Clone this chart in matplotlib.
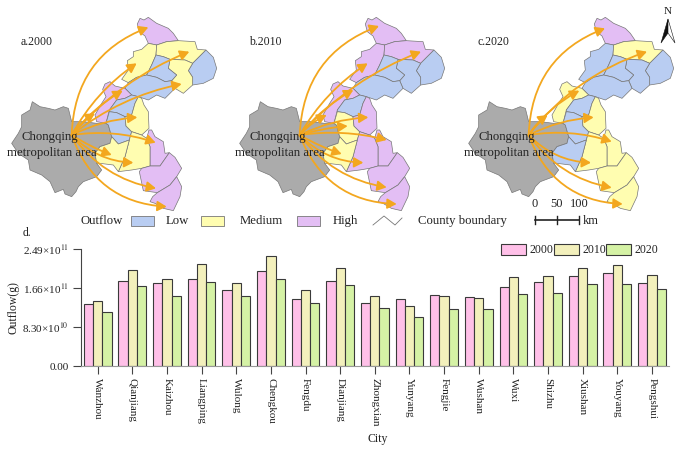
import matplotlib
matplotlib.use("Agg")
import matplotlib.pyplot as plt
from matplotlib.patches import Polygon, Rectangle, FancyArrowPatch

plt.rcParams['font.family'] = ['Liberation Serif', 'DejaVu Serif']
plt.rcParams['mathtext.fontset'] = 'stix'

# bar chart data (outflow in 1e11 g)
cities = ["Wanzhou", "Qianjiang", "Kaizhou", "Liangping", "Wulong", "Chengkou", "Fengdu",
          "Dianjiang", "Zhongxian", "Yunyang", "Fengjie", "Wushan", "Wuxi", "Shizhu",
          "Xiushan", "Youyang", "Pengshui"]
outflow_2000 = [1.31, 1.81, 1.76, 1.86, 1.61, 2.02, 1.43, 1.81, 1.34, 1.43, 1.52, 1.47, 1.69, 1.79, 1.92, 1.98, 1.76]
outflow_2010 = [1.39, 2.05, 1.86, 2.17, 1.76, 2.35, 1.61, 2.09, 1.49, 1.27, 1.48, 1.44, 1.89, 1.91, 2.08, 2.16, 1.94]
outflow_2020 = [1.15, 1.70, 1.48, 1.78, 1.49, 1.86, 1.34, 1.73, 1.24, 1.05, 1.21, 1.22, 1.53, 1.56, 1.75, 1.74, 1.63]
y_ticks = [0, 0.83, 1.66, 2.49]
y_tick_labels = ["0.00", r"8.30×10$^{10}$", r"1.66×10$^{11}$", r"2.49×10$^{11}$"]

# map outlines
metro = [(97,305),(120,320),(145,325),(165,330),(190,320),(205,325),(215,365),(250,365),(290,370),(318,370),(325,375),
         (335,410),(330,430),(300,440),(285,460),(290,490),(305,510),(290,530),(250,545),(235,560),(228,575),(215,590),
         (195,582),(190,568),(165,578),(150,545),(125,525),(90,510),(85,480),(55,460),(35,430),(55,400),(65,380),(65,345),(90,330)]
counties = [
    [(420,55),(432,60),(445,52),(470,70),(505,85),(520,100),(535,122),(500,125),(470,135),(445,130),(435,108),(418,95),(412,72)],
    [(400,155),(425,148),(445,130),(470,135),(468,165),(455,195),(440,225),(410,232),(385,248),(365,238),(385,210),(382,182),(400,170)],
    [(500,125),(535,122),(585,125),(592,148),(618,150),(600,168),(578,190),(555,180),(510,178),(490,170),(468,165),(470,135)],
    [(618,150),(640,172),(650,205),(640,235),(610,250),(578,255),(578,232),(565,212),(578,190),(600,168)],
    [(510,178),(555,180),(578,190),(565,212),(578,232),(578,255),(550,280),(525,265),(515,242),(530,225),(505,205)],
    [(468,165),(490,170),(510,178),(505,205),(530,225),(515,242),(495,245),(470,232),(440,225),(455,195)],
    [(440,225),(470,232),(495,245),(515,242),(525,265),(495,295),(470,285),(445,300),(415,290),(395,285),(375,265),(385,248),(410,232)],
    [(315,252),(330,245),(345,258),(375,265),(395,285),(375,295),(350,300),(328,330),(318,370),(290,365),(285,345),(305,310),(318,290),(308,268)],
    [(395,285),(415,290),(405,310),(395,345),(375,350),(350,338),(328,335),(328,330),(350,300),(375,295)],
    [(328,335),(350,338),(375,350),(378,378),(395,395),(388,420),(355,432),(335,410),(325,375),(318,370)],
    [(415,290),(425,295),(432,315),(445,335),(447,385),(425,405),(395,395),(378,378),(375,350),(395,345),(405,310)],
    [(447,390),(455,390),(465,410),(490,425),(495,460),(508,458),(480,498),(450,498),(450,440),(440,415)],
    [(425,405),(440,415),(450,440),(450,498),(425,505),(395,510),(355,515),(375,470),(388,420),(395,395)],
    [(355,432),(388,420),(375,470),(355,515),(340,495),(300,490),(290,490),(285,460),(300,440),(330,430),(335,410)],
    [(508,458),(525,472),(545,505),(530,530),(510,555),(472,578),(430,572),(418,515),(425,505),(450,498),(480,498)],
    [(530,530),(545,560),(540,590),(520,632),(490,625),(465,610),(450,605),(458,590),(472,578),(510,555)],
]
# outflow class of each county per panel: L, M, H
levels_a = "HMMLMLLHLLMHMMHH"
levels_b = "HHHLLLLHLMHHHMHH"
levels_c = "HLMLLLLMLLMMMLMM"
# arrow ends and curvature per panel
targets_a = [(445,82,-.33),(410,190,-.12),(568,155,-.12),(368,272,-.1),(545,252,-.12),(285,340,-.1),
             (412,352,-.1),(467,428,-.12),(335,465,.05),(400,488,.2),(468,565,.2),(500,620,.33)]
targets_b = [(453,78,-.33),(419,190,-.12),(579,155,-.12),(376,270,-.1),(296,345,-.1),(421,352,-.1),
             (359,378,-.05),(476,420,-.1),(341,462,.05),(406,488,.2),(476,562,.2),(506,612,.33)]
targets_c = [(444,85,-.33),(570,155,-.15),(367,272,-.12),(272,345,-.1),(410,352,-.1),(464,425,-.12),
             (402,488,.2),(464,563,.2),(497,612,.33)]
panels = [("a.2000", 0, levels_a, targets_a), ("b.2010", 228, levels_b, targets_b), ("c.2020", 457, levels_c, targets_c)]

level_colors = {"L": "#B9CDF2", "M": "#FFFDB0", "H": "#E3BEF4"}
text_color = "#222222"
arrow_color = "#F3A71F"

fig = plt.figure(figsize=(6.85, 4.5), dpi=100)

# whole figure axes in pixels for the maps
bg = fig.add_axes([0, 0, 1, 1])
bg.set_xlim(0, 685)
bg.set_ylim(450, 0)
bg.axis("off")


def scaled(points, dx):
    return [(p[0] / 3 + dx, p[1] / 3) for p in points]


for title, dx, levels, targets in panels:
    bg.add_patch(Polygon(scaled(metro, dx), facecolor="#ABABAB", edgecolor="#777777", lw=0.5))
    for county, level in zip(counties, levels):
        bg.add_patch(Polygon(scaled(county, dx), facecolor=level_colors[level], edgecolor="#777777", lw=0.5))
    for tx, ty, rad in targets:
        bg.add_patch(FancyArrowPatch((215 / 3 + dx, 405 / 3), (tx / 3 + dx, ty / 3),
                                     arrowstyle="-|>,head_length=0.55,head_width=0.3",
                                     mutation_scale=10, connectionstyle=f"arc3,rad={rad}",
                                     color=arrow_color, lw=1.3, shrinkA=0, shrinkB=0, zorder=3))
    bg.text(21 + dx, 42, title, fontsize=8.5, color=text_color, va="center")
    bg.text(50 + dx, 137, "Chongqing", fontsize=9.2, color=text_color, ha="center", va="center", zorder=4)
    bg.text(52 + dx, 153, "metropolitan area", fontsize=9.2, color=text_color, ha="center", va="center", zorder=4)

# map legend
bg.text(81, 221, "Outflow", fontsize=9.2, color=text_color, va="center")
for x0, lev, name, tx in [(131, "L", "Low", 166), (201, "M", "Medium", 240), (297, "H", "High", 333)]:
    bg.add_patch(Rectangle((x0, 216), 23, 10, facecolor=level_colors[lev], edgecolor="#777777", lw=0.6))
    bg.text(tx, 221, name, fontsize=9.2, color=text_color, va="center")
bg.plot([373, 384, 395, 402], [225, 216, 225, 218], color="#777777", lw=0.6)
bg.text(418, 221, "County boundary", fontsize=9.2, color=text_color, va="center")

# scale bar
bg.plot([535, 579], [220, 220], color="#222222", lw=1.2)
for x0, lab in [(535, "0"), (557, "50"), (579, "100")]:
    bg.plot([x0, x0], [216, 224], color="#222222", lw=1.0)
    bg.text(x0, 204, lab, fontsize=9, color=text_color, ha="center", va="center")
bg.text(583, 221, "km", fontsize=9, color=text_color, va="center")

# north arrow
bg.text(668, 12, "N", fontsize=8, color=text_color, ha="center", va="center")
bg.add_patch(Polygon([(668, 19), (661, 43), (668, 33)], facecolor="#111111", edgecolor="#111111", lw=0.4))
bg.add_patch(Polygon([(668, 19), (675, 43), (668, 33)], facecolor="white", edgecolor="#111111", lw=0.4))

bg.text(23, 233, "d.", fontsize=8.5, color=text_color, va="center")

# bar chart
ax = fig.add_axes([81 / 685, 1 - 366 / 450, 588 / 685, 117 / 450])
ax.patch.set_alpha(0)
width = 0.267
x = list(range(len(cities)))
series = [("2000", outflow_2000, "#FFC0E8"), ("2010", outflow_2010, "#F3F0BC"), ("2020", outflow_2020, "#D5F2A5")]
for i, (name, values, color) in enumerate(series):
    ax.bar([v + (i - 1) * width for v in x], values, width, color=color, edgecolor="#3A3A3A", lw=0.8, label=name)

ax.set_xlim(-0.48, 16.49)
ax.set_ylim(0, 2.49)
ax.set_yticks(y_ticks)
ax.set_yticklabels(y_tick_labels, fontsize=8, color=text_color)
ax.set_xticks(x)
ax.set_xticklabels(cities, rotation=-90, fontsize=8, color=text_color, ha="center", va="top")
ax.tick_params(axis="y", length=6, width=0.8, color="#444444", pad=3)
ax.tick_params(axis="x", length=5.5, width=0.8, color="#444444", pad=3)
ax.spines["top"].set_visible(False)
ax.spines["right"].set_visible(False)
ax.spines["left"].set_color("#444444")
ax.spines["bottom"].set_color("#999999")

fig.text(14 / 685, 1 - 308 / 450, "Outflow(g)", rotation=90, fontsize=8.5, color=text_color, ha="center", va="center")
fig.text(378 / 685, 1 - 439 / 450, "City", fontsize=8.5, color=text_color, ha="center", va="center")

ax.legend(loc="upper left", bbox_to_anchor=(501 / 685, 1 - 244 / 450), bbox_transform=fig.transFigure, ncol=3,
          frameon=False, fontsize=8.5, handlelength=2.1, handleheight=1.0, handletextpad=0.3, columnspacing=0.05,
          borderpad=0, borderaxespad=0, labelcolor=text_color)

fig.savefig("out.png", dpi=100)
